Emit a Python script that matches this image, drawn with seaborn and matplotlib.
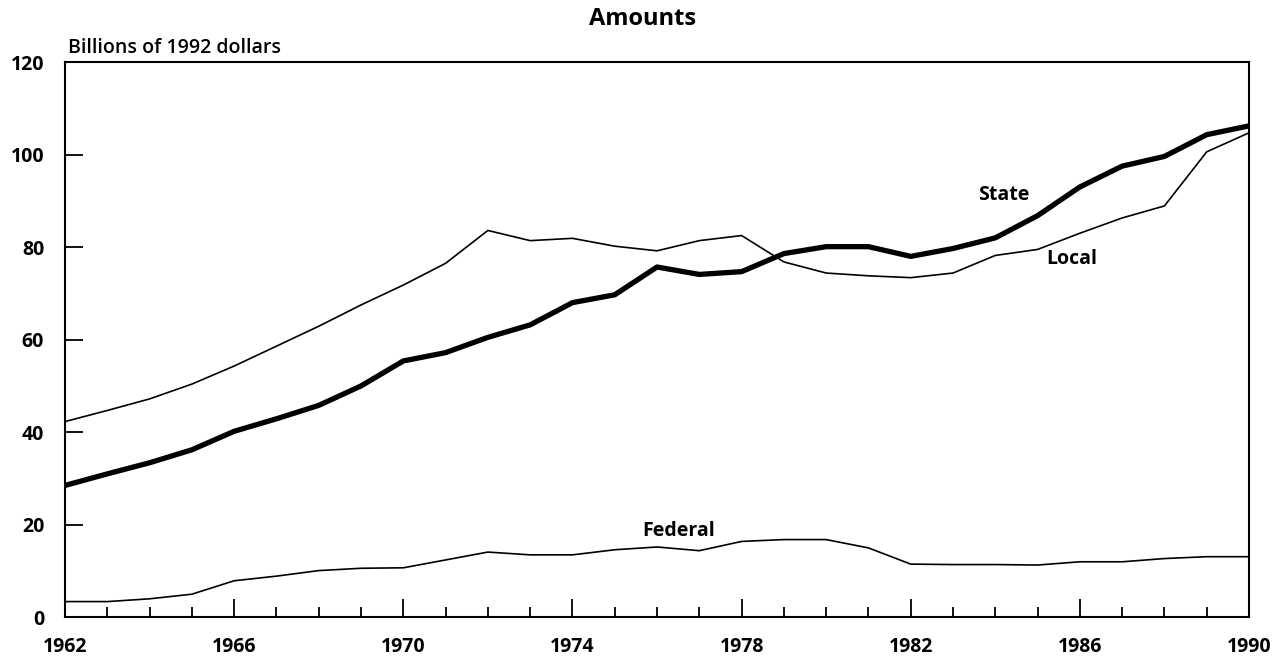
import matplotlib
matplotlib.use("Agg")
import matplotlib.pyplot as plt
import seaborn as sns
import pandas as pd
import numpy as np

years = list(range(1962, 1991))
state = [28.5, 31.0, 33.4, 36.2, 40.2, 42.9, 45.8, 50.0, 55.4, 57.2, 60.5, 63.2, 68.0, 69.7,
         75.7, 74.1, 74.7, 78.6, 80.1, 80.1, 78.0, 79.7, 82.0, 86.8, 93.0, 97.5, 99.6, 104.3, 106.2]
local = [42.3, 44.7, 47.2, 50.4, 54.3, 58.6, 62.9, 67.5, 71.8, 76.5, 83.6, 81.4, 81.9, 80.2,
         79.2, 81.4, 82.5, 76.8, 74.4, 73.8, 73.4, 74.4, 78.2, 79.5, 83.0, 86.3, 88.9, 100.6, 104.7]
federal = [3.4, 3.4, 4.0, 5.0, 7.9, 8.9, 10.1, 10.6, 10.7, 12.4, 14.1, 13.5, 13.5, 14.6,
           15.2, 14.4, 16.4, 16.8, 16.8, 15.0, 11.5, 11.4, 11.4, 11.3, 12.0, 12.0, 12.7, 13.1, 13.1]
series_names = ["State", "Local", "Federal"]
y_ticks = [0, 20, 40, 60, 80, 100, 120]
x_labels = [1962, 1966, 1970, 1974, 1978, 1982, 1986, 1990]

df = pd.DataFrame({"Year": years * 3,
                   "Value": state + local + federal,
                   "Series": ["State"] * len(years) + ["Local"] * len(years) + ["Federal"] * len(years)})

sns.set_theme(style="white")
plt.rcParams['font.family'] = ['Open Sans', 'DejaVu Sans']
plt.rcParams['text.color'] = 'black'
plt.rcParams['xtick.color'] = 'black'
plt.rcParams['ytick.color'] = 'black'
plt.rcParams['axes.labelcolor'] = 'black'

fig = plt.figure(figsize=(12.85, 6.64), dpi=100)
ax = fig.add_axes([0.0506, 0.0703, 0.9214, 0.8363])

widths = {"State": 3.8, "Local": 1.2, "Federal": 1.2}
for name in series_names:
    sub = df[df["Series"] == name]
    sns.lineplot(data=sub, x="Year", y="Value", ax=ax, color="black",
                 linewidth=widths[name], legend=False, solid_joinstyle="round")

ax.set_xlim(1962, 1990)
ax.set_ylim(0, 120)
ax.set_xlabel("")
ax.set_ylabel("")

ax.set_xticks(x_labels)
ax.set_xticklabels([str(v) for v in x_labels], fontsize=14, fontweight="bold")
ax.set_xticks(years, minor=True)
ax.set_yticks(y_ticks)
ax.set_yticklabels([str(v) for v in y_ticks], fontsize=14, fontweight="bold")

ax.tick_params(axis="x", which="major", direction="in", length=13, width=1.3,
               bottom=True, top=False, pad=14, colors="black")
ax.tick_params(axis="x", which="minor", direction="in", length=7, width=1.3,
               bottom=True, top=False, colors="black")
ax.tick_params(axis="y", which="major", direction="in", length=13, width=1.3,
               left=True, right=False, pad=15, colors="black")

for sp in ax.spines.values():
    sp.set_visible(True)
    sp.set_color("black")
    sp.set_linewidth(1.5)

ax.text(1984.2, 91.2, "State", fontsize=14, fontweight="bold", ha="center", va="center", color="black")
ax.text(1985.8, 77.4, "Local", fontsize=14, fontweight="bold", ha="center", va="center", color="black")
ax.text(1976.5, 18.7, "Federal", fontsize=14, fontweight="bold", ha="center", va="center", color="black")

fig.text(0.053, 0.927, "Billions of 1992 dollars", fontsize=14, fontweight="semibold",
         ha="left", va="center", color="black")
fig.suptitle("Amounts", x=0.5, y=0.972, fontsize=17, fontweight="bold", va="center", color="black")

fig.savefig("out.png", dpi=100, facecolor="white")
